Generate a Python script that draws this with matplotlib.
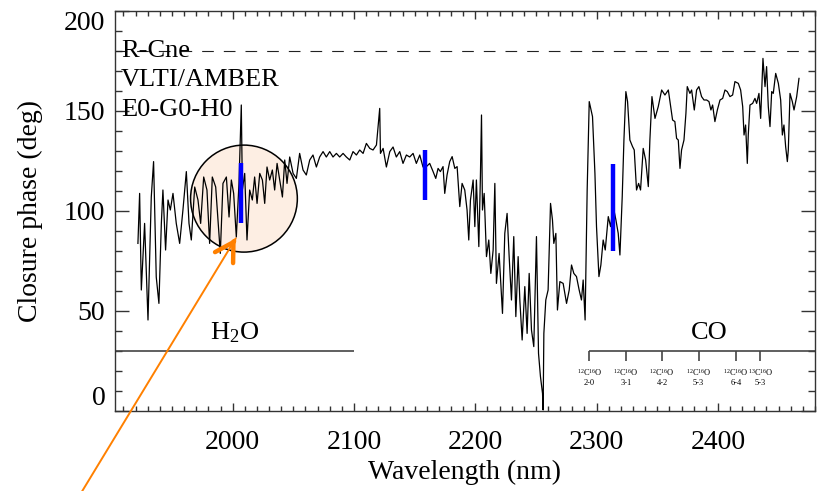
import matplotlib
matplotlib.use("Agg")
import matplotlib.pyplot as plt
from matplotlib.patches import Ellipse
from matplotlib.ticker import MultipleLocator

# closure phase spectrum (nm, deg)
wl_h2o = [1921.9, 1923.3, 1924.7, 1927.4, 1930.2, 1932.9, 1934.8, 1937.0, 1939.2, 1941.2,
          1942.5, 1944.7, 1946.7, 1948.6, 1950.8, 1953.5, 1956.3, 1959.0, 1961.8, 1964.0,
          1965.9, 1968.7, 1971.4, 1973.6, 1976.1, 1978.8, 1981.0, 1983.2, 1986.0, 1987.9,
          1989.8, 1992.0, 1994.8, 1997.0, 1998.9, 2000.8, 2003.0, 2005.2, 2007.1, 2008.0,
          2009.9, 2011.8, 2014.0, 2016.2, 2018.1, 2020.1, 2022.3, 2024.5, 2026.4, 2028.3,
          2030.5, 2032.7, 2034.6, 2036.6, 2038.8, 2041.0, 2042.9, 2044.8, 2047.0, 2049.8,
          2052.5, 2055.2, 2058.0, 2060.7, 2063.5, 2066.2, 2069.0, 2071.7, 2074.5, 2077.2,
          2080.0, 2082.7, 2085.5, 2088.2, 2091.0, 2093.7, 2096.5, 2099.2, 2102.0, 2104.7,
          2107.5, 2110.2, 2113.0, 2115.7, 2118.5, 2121.2, 2121.8, 2124.0, 2126.7, 2129.5,
          2132.2, 2134.9, 2137.7, 2140.4, 2143.2, 2145.9, 2148.7, 2151.4, 2154.2, 2156.9]
cp_h2o = [83.8, 108.8, 60.5, 93.8, 45.5, 107.0, 124.7, 67.0, 53.8, 93.8,
          110.5, 80.5, 105.5, 100.5, 108.8, 93.8, 83.8, 100.5, 119.7, 93.8,
          85.5, 112.0, 105.5, 93.8, 117.0, 110.5, 83.8, 117.0, 112.0, 95.5,
          78.8, 113.8, 117.0, 97.0, 115.5, 108.8, 87.0, 113.8, 153.0, 110.5,
          118.8, 85.5, 110.5, 105.5, 117.0, 103.8, 118.8, 115.5, 103.8, 122.0,
          115.5, 120.5, 110.5, 123.8, 115.5, 107.0, 125.5, 113.8, 127.0, 118.8,
          116.3, 128.8, 120.5, 118.0, 125.5, 128.0, 122.0, 127.0, 129.7, 127.0,
          129.7, 127.0, 128.8, 127.0, 128.8, 127.0, 125.5, 129.7, 128.0, 130.5,
          128.8, 133.8, 131.3, 130.5, 133.0, 151.3, 128.8, 131.3, 122.0, 129.7,
          132.0, 127.0, 129.7, 123.8, 128.0, 127.0, 128.8, 123.8, 128.0, 122.0]

wl_mid = [2159.7, 2162.4, 2165.2, 2167.4, 2169.3, 2171.2, 2173.4, 2174.8, 2176.7, 2178.9,
          2180.9, 2183.1, 2185.0, 2187.2, 2189.1, 2191.3, 2193.2, 2194.6, 2196.0, 2198.2,
          2199.6, 2200.9, 2202.9, 2204.2, 2205.1, 2205.9, 2207.3, 2209.2, 2211.1, 2212.8,
          2214.7, 2216.1, 2217.4, 2219.6, 2222.4, 2224.3, 2226.2, 2227.9, 2229.8, 2231.7,
          2233.4, 2235.3, 2236.7, 2238.6, 2240.8, 2242.7, 2244.4, 2246.3, 2248.2, 2250.4,
          2252.1, 2253.7, 2255.4, 2255.9, 2256.5, 2258.1, 2260.0, 2262.0, 2263.6, 2264.7,
          2266.4, 2267.7, 2269.7, 2272.4, 2275.2, 2277.4, 2279.3, 2281.2, 2283.4, 2285.6,
          2287.5, 2288.9, 2290.5]
cp_mid = [122.2, 123.8, 119.7, 116.3, 121.3, 119.7, 122.2, 108.8, 118.0, 124.7,
          127.2, 121.3, 122.2, 102.2, 113.8, 110.5, 100.5, 85.5, 105.5, 115.5,
          92.2, 115.5, 82.2, 117.2, 148.0, 100.5, 108.8, 77.2, 85.5, 68.8,
          80.5, 113.8, 63.8, 78.8, 48.8, 88.8, 98.8, 77.2, 55.5, 87.2,
          47.2, 77.2, 55.5, 35.5, 62.2, 38.8, 68.8, 40.5, 32.2, 87.2,
          28.8, 17.2, 8.8, 0.5, 38.8, 55.5, 60.5, 103.8, 95.5, 83.8,
          88.8, 50.5, 64.7, 63.8, 53.8, 60.5, 73.0, 68.8, 67.2, 60.5,
          55.5, 65.5, 45.5]

wl_co = [2292.2, 2293.9, 2296.6, 2298.6, 2299.9, 2301.9, 2303.5, 2305.4, 2307.1, 2309.6,
         2311.5, 2313.7, 2315.9, 2317.8, 2319.2, 2321.1, 2322.5, 2324.1, 2325.5, 2327.4,
         2329.6, 2331.0, 2332.9, 2334.6, 2336.2, 2338.4, 2340.4, 2342.6, 2343.9, 2345.6,
         2348.1, 2350.8, 2353.6, 2356.3, 2359.1, 2361.0, 2362.6, 2364.5, 2365.9, 2367.3,
         2368.7, 2370.0, 2372.0, 2373.6, 2374.7, 2376.9, 2378.3, 2380.5, 2382.4, 2384.3,
         2386.5, 2388.5, 2390.7, 2392.6, 2394.2, 2395.6, 2397.5, 2399.5, 2401.7, 2403.9,
         2405.8, 2407.7, 2409.9, 2412.1, 2414.0, 2416.8, 2418.7, 2420.4, 2421.5, 2422.8,
         2424.2, 2425.0, 2426.4, 2428.6, 2430.5, 2431.9, 2433.8, 2435.2, 2437.1, 2438.8,
         2440.1, 2441.5, 2442.9, 2444.3, 2445.6, 2447.6, 2449.8, 2451.7, 2453.1, 2454.4,
         2455.8, 2457.2, 2458.0, 2459.4, 2461.3, 2462.7, 2464.9, 2466.8]
cp_co = [110.5, 154.7, 147.2, 118.8, 92.2, 67.2, 73.0, 85.5, 80.5, 97.2,
         92.2, 102.2, 95.5, 88.8, 78.0, 107.2, 135.5, 159.7, 154.7, 135.5,
         132.2, 130.5, 110.5, 113.8, 110.5, 131.3, 125.5, 112.2, 135.5, 157.2,
         146.3, 152.2, 160.5, 158.0, 160.5, 152.2, 145.5, 144.7, 136.3, 135.5,
         121.3, 130.5, 135.5, 148.8, 162.2, 158.8, 160.5, 150.5, 160.5, 162.2,
         157.2, 155.5, 155.5, 154.7, 150.5, 153.0, 144.7, 150.5, 155.5, 156.3,
         160.5, 159.7, 157.2, 158.0, 164.7, 163.8, 160.5, 152.2, 138.0, 143.0,
         123.8, 138.0, 153.0, 153.8, 156.3, 153.8, 158.8, 146.3, 176.3, 162.2,
         172.2, 152.2, 142.2, 159.7, 158.8, 168.8, 163.8, 155.5, 138.0, 143.0,
         132.2, 124.7, 130.5, 158.8, 154.7, 150.5, 157.2, 166.3]

# blue error bars
bar_wl = [2006.6, 2158.3, 2313.7]
bar_lo = [94.2, 105.5, 80.0]
bar_hi = [124.2, 130.5, 123.5]

# CO band heads
co_wl = [2294, 2324, 2354, 2384, 2415, 2435]
co_iso = [r"$^{12}$C$^{16}$O"] * 5 + [r"$^{13}$C$^{16}$O"]
co_band = ["2-0", "3-1", "4-2", "5-3", "6-4", "5-3"]

plt.rcParams["font.family"] = ["Liberation Serif", "DejaVu Serif"]
plt.rcParams["mathtext.fontset"] = "custom"
plt.rcParams["mathtext.rm"] = "Liberation Serif"
plt.rcParams["mathtext.it"] = "Liberation Serif:italic"

fig = plt.figure(figsize=(8.23, 4.91), dpi=100)
ax = fig.add_axes([115 / 823, 80 / 491, 700 / 823, 400 / 491])
frame = "#333333"

ax.add_patch(Ellipse((2009.3, 106.2), 88, 53.5, fc="#fdeee3", ec="black", lw=1.1, zorder=1))

ax.plot(wl_h2o + wl_mid + wl_co, cp_h2o + cp_mid + cp_co, color="black", lw=0.9, zorder=2)
ax.vlines(bar_wl, bar_lo, bar_hi, colors="#0000ff", lw=3.2, zorder=3)

ax.axhline(180, color="#222222", lw=0.8, ls=(0, (10.5, 9)))

# band markers
ax.hlines(30, 1903, 2100, color="#444444", lw=1.2)
ax.text(2001.6, 39, r"H$_2$O", ha="center", va="center", fontsize=19)
ax.hlines(30, co_wl[0], 2480, color="#444444", lw=1.2)
ax.vlines(co_wl, 25, 30, color="#444444", lw=1.2)
ax.text(2392.6, 39, "CO", ha="center", va="center", fontsize=19)
for w, iso, band in zip(co_wl, co_iso, co_band):
    ax.text(w, 19, iso, ha="center", va="center", fontsize=6)
    ax.text(w, 14, band, ha="center", va="center", fontsize=6)

ax.text(1908, 180, "R-Cne", va="center", fontsize=19)
ax.text(1908, 165.5, "VLTI/AMBER", va="center", fontsize=19)
ax.text(1908, 150.5, "E0-G0-H0", va="center", fontsize=19)

# orange arrow
orange = "#ff8000"
ax.annotate("", xy=(2002.5, 86.3), xytext=(1866, -50), annotation_clip=False,
            arrowprops=dict(arrowstyle="-", color=orange, lw=1.4, shrinkA=0, shrinkB=0))
ax.annotate("", xy=(2002.5, 86.3), xytext=(2000.8, 84.6), annotation_clip=False,
            arrowprops=dict(arrowstyle="->,head_length=0.65,head_width=0.38", color=orange,
                            lw=3.2, shrinkA=0, shrinkB=0, mutation_scale=20))

ax.set_xlim(1903, 2480)
ax.set_ylim(0, 200)
ax.set_xticks([2000, 2100, 2200, 2300, 2400])
ax.set_yticks([0, 50, 100, 150, 200])
ax.xaxis.set_minor_locator(MultipleLocator(10))
ax.yaxis.set_minor_locator(MultipleLocator(10))
ax.tick_params(which="both", direction="in", top=True, right=True, width=1,
               color=frame, labelsize=20)
ax.tick_params(axis="y", which="major", length=10, pad=7)
ax.tick_params(axis="y", which="minor", length=5)
ax.tick_params(axis="x", which="major", length=6, pad=14)
ax.tick_params(axis="x", which="minor", length=3.6)
for s in ax.spines.values():
    s.set_color(frame)
    s.set_linewidth(1.0)

ylabels = ax.get_yticklabels()
ylabels[0].set_va("bottom")
ylabels[-1].set_va("top")

ax.set_xlabel("Wavelength (nm)", fontsize=20, labelpad=3)
ax.set_ylabel("Closure phase (deg)", fontsize=20, labelpad=15)

fig.savefig("out.png", dpi=100)
